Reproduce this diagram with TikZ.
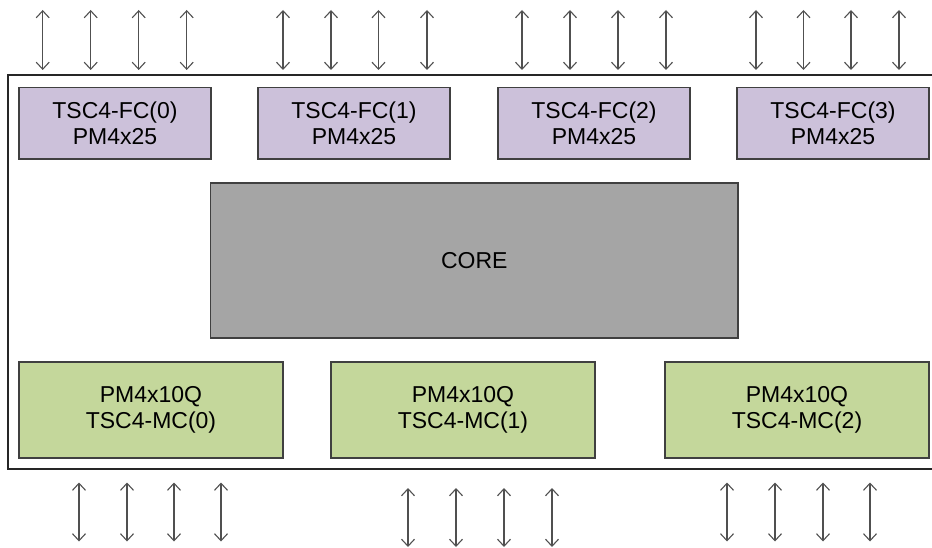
\documentclass[tikz,border=0pt]{standalone}
\usepackage{fontspec}
\setmainfont{Liberation Sans}
\usetikzlibrary{arrows.meta}

\definecolor{fcfill}{HTML}{CCC1DA}
\definecolor{mcfill}{HTML}{C4D79B}
\definecolor{corefill}{HTML}{A5A5A5}
\definecolor{boxline}{HTML}{404040}
\definecolor{pinline}{HTML}{505050}

\tikzset{
  blk/.style={draw=boxline, line width=1.4pt, inner sep=0pt, align=center,
    font=\fontsize{23}{26.5}\selectfont, text=black},
  fcbox/.style={blk, fill=fcfill, minimum width=192pt, minimum height=71.5pt},
  mcbox/.style={blk, fill=mcfill, minimum width=264pt, minimum height=96pt},
  corebox/.style={blk, fill=corefill, line width=1.8pt, minimum width=527.5pt, minimum height=155pt},
  frame/.style={draw=black!85, line width=1.2pt},
  pin/.style={draw=pinline, line width=1.1pt,
    {Straight Barb[length=7pt,width=13pt]}-{Straight Barb[length=7pt,width=13pt]}}
}

\begin{document}
\begin{tikzpicture}[x=1pt,y=-1pt]
  \useasboundingbox (0,0) rectangle (932,548);

  % chip outline (open on the right)
  \coordinate (frTR) at (932,75);
  \coordinate (frTL) at (8,75);
  \coordinate (frBL) at (8,469);
  \coordinate (frBR) at (932,469);
  \draw[frame] (frTR) -- (frTL) -- (frBL) -- (frBR);

  % top row: fabric ports
  \node[fcbox] (fc0) at (115,123.25) {TSC4-FC(0)\\PM4x25};
  \node[fcbox] (fc1) at (354,123.25) {TSC4-FC(1)\\PM4x25};
  \node[fcbox] (fc2) at (594,123.25) {TSC4-FC(2)\\PM4x25};
  \node[fcbox] (fc3) at (833,123.25) {TSC4-FC(3)\\PM4x25};

  % switching core
  \node[corebox] (core) at (474.25,260.5) {CORE};

  % bottom row: MAC ports
  \node[mcbox] (mc0) at (151,410) {PM4x10Q\\TSC4-MC(0)};
  \node[mcbox] (mc1) at (463,410) {PM4x10Q\\TSC4-MC(1)};
  \node[mcbox] (mc2) at (797,410) {PM4x10Q\\TSC4-MC(2)};

  % lanes above the fabric ports
  \foreach \x [count=\i] in {42.7,90.7,138.7,186.7, 283,331,378.5,427,
                             522,570,618,666, 756,803.5,851,899} {
    \coordinate (ta\i) at (\x,10);
    \coordinate (tb\i) at (\x,70);
    \draw[pin] (ta\i) -- (tb\i);
  }

  % lanes below the MAC ports
  \foreach \x/\ya/\yb [count=\i] in {79/482.5/541.5,127/482.5/541.5,174/482.5/541.5,221/482.5/541.5,
                                      408/488/547,456/488/547,504/488/547,552/488/547,
                                      727/482.5/541.5,775/482.5/541.5,823/482.5/541.5,870/482.5/541.5} {
    \coordinate (ba\i) at (\x,\ya);
    \coordinate (bb\i) at (\x,\yb);
    \draw[pin] (ba\i) -- (bb\i);
  }
\end{tikzpicture}
\end{document}
